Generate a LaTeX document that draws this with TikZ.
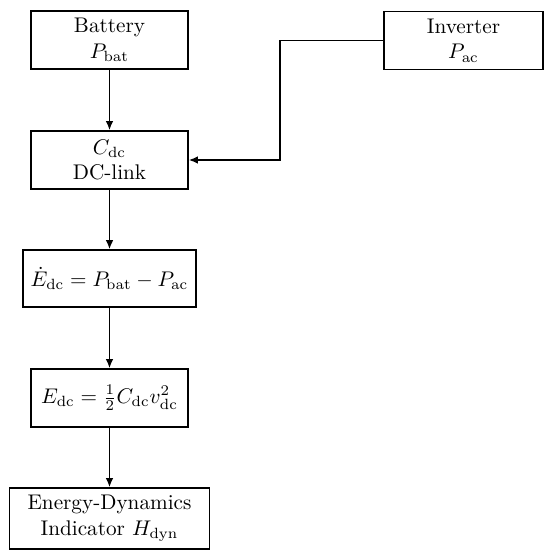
\documentclass[tikz,border=0pt]{standalone}
\usetikzlibrary{arrows.meta}
\begin{document}
\begin{tikzpicture}[x=0.4717pt,y=-0.4717pt,
  blk/.style={draw,line width=0.8pt,align=center,inner sep=0pt,minimum width=74.1pt,minimum height=27.4pt},
  arr/.style={line width=0.7pt,-{Latex[length=4.2pt,width=3.6pt]}}]
\useasboundingbox (0,0) rectangle (550,560);
\node[blk] (bat) at (109.5,40) {Battery\\$P_{\mathrm{bat}}$};
\node[blk,minimum width=75pt] (inv) at (463.5,40.5) {Inverter\\$P_{\mathrm{ac}}$};
\node[blk] (dc) at (109.5,160) {$C_{\mathrm{dc}}$\\DC-link};
\node[blk,minimum width=81.6pt,minimum height=26.9pt] (edot) at (109.5,278.5) {$\dot{E}_{\mathrm{dc}}=P_{\mathrm{bat}}-P_{\mathrm{ac}}$};
\node[blk] (edc) at (109.5,398) {$E_{\mathrm{dc}}=\frac{1}{2}C_{\mathrm{dc}}v_{\mathrm{dc}}^2$};
\node[blk,minimum width=94.3pt,minimum height=28.8pt] (hdyn) at (109.5,518.5) {Energy-Dynamics\\Indicator $H_{\mathrm{dyn}}$};
\coordinate (bend) at (280,40.5);
\draw[arr] (bat) -- (dc);
\draw[arr] (dc) -- (edot);
\draw[arr] (edot) -- (edc);
\draw[arr] (edc) -- (hdyn);
\draw[arr] (inv.west) -- (bend) |- (dc.east);
\end{tikzpicture}
\end{document}
